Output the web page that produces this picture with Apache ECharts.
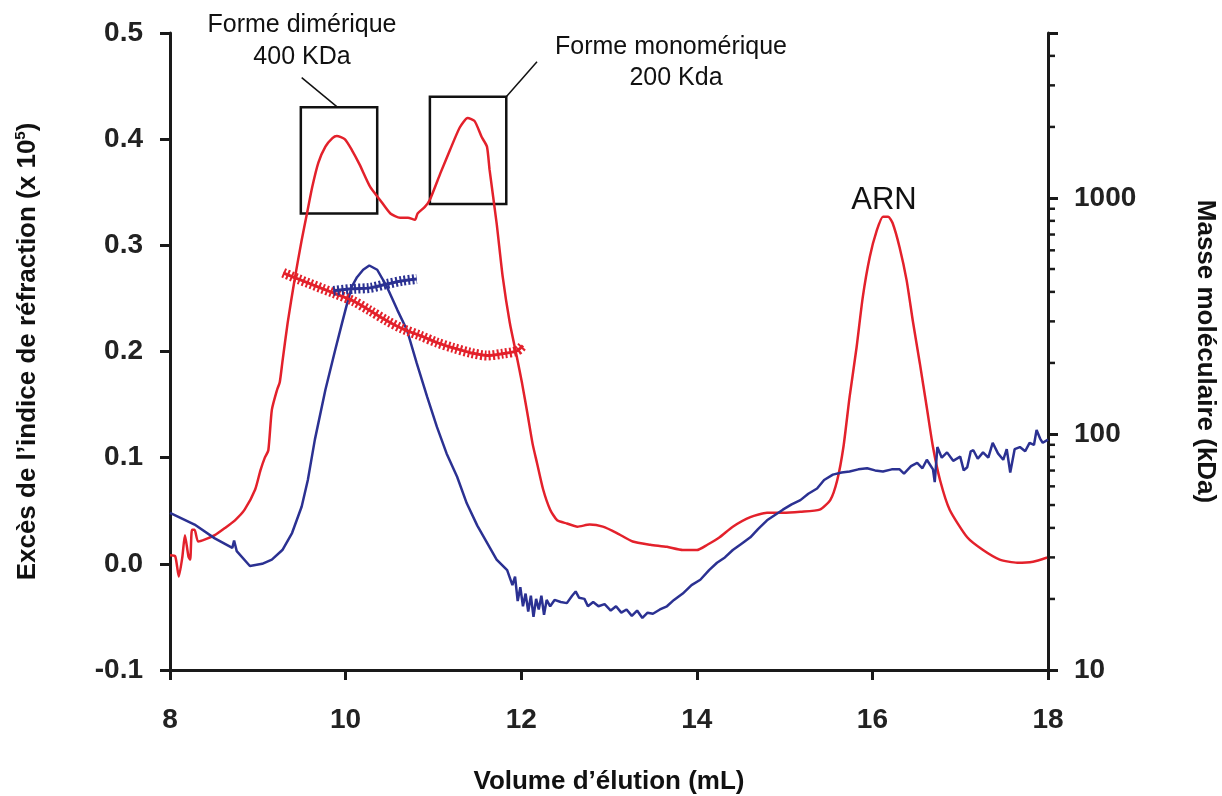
<!DOCTYPE html>
<html>
<head>
<meta charset="utf-8">
<script src="https://cdn.jsdelivr.net/npm/echarts@6/dist/echarts.min.js"></script>
<style>
	html, body { margin: 0; padding: 0; background: #fff; }
	#main { width: 1222px; height: 796px; }
</style>
</head>
<body>
<div id="main"></div>
<script>
// indice de réfraction (rouge), axe de gauche
const riData = [
	[8.00, 0.008], [8.06, 0.007], [8.10, -0.012], [8.14, 0.006], [8.17, 0.027], [8.21, 0.007],
	[8.23, 0.004], [8.25, 0.032], [8.28, 0.032], [8.32, 0.021], [8.40, 0.023], [8.51, 0.027],
	[8.63, 0.034], [8.74, 0.041], [8.85, 0.051], [8.97, 0.070], [9.03, 0.088], [9.08, 0.100],
	[9.12, 0.107], [9.16, 0.145], [9.22, 0.164], [9.25, 0.171], [9.28, 0.190], [9.34, 0.227],
	[9.42, 0.268], [9.50, 0.305], [9.56, 0.330], [9.62, 0.355], [9.69, 0.378], [9.77, 0.393],
	[9.85, 0.401], [9.90, 0.403], [9.99, 0.400], [10.07, 0.390], [10.16, 0.376], [10.28, 0.355],
	[10.39, 0.343], [10.51, 0.330], [10.62, 0.326], [10.71, 0.326], [10.79, 0.324], [10.82, 0.330],
	[10.90, 0.336], [10.96, 0.343], [11.08, 0.368], [11.19, 0.390], [11.30, 0.411], [11.39, 0.420],
	[11.47, 0.417], [11.55, 0.402], [11.61, 0.393], [11.64, 0.371], [11.72, 0.321], [11.79, 0.270],
	[11.87, 0.227], [11.95, 0.195], [12.01, 0.170], [12.07, 0.142], [12.13, 0.113], [12.18, 0.095],
	[12.25, 0.070], [12.33, 0.051], [12.41, 0.041], [12.52, 0.038], [12.64, 0.035], [12.78, 0.037],
	[12.93, 0.035], [13.09, 0.029], [13.27, 0.021], [13.47, 0.018], [13.66, 0.016], [13.84, 0.013],
	[14.00, 0.013], [14.12, 0.018], [14.26, 0.025], [14.41, 0.035], [14.61, 0.044], [14.80, 0.048],
	[14.98, 0.048], [15.18, 0.049], [15.40, 0.051], [15.52, 0.060], [15.60, 0.079], [15.67, 0.110],
	[15.74, 0.157], [15.82, 0.204], [15.89, 0.251], [15.97, 0.289], [16.05, 0.314], [16.12, 0.327],
	[16.18, 0.327], [16.23, 0.321], [16.31, 0.298], [16.39, 0.267], [16.46, 0.229], [16.54, 0.189],
	[16.62, 0.147], [16.69, 0.110], [16.77, 0.079], [16.88, 0.051], [17.08, 0.025], [17.26, 0.013],
	[17.45, 0.004], [17.65, 0.001], [17.83, 0.002], [17.99, 0.006]
];

// signal bleu, axe de gauche
const lsData = [
	[8.00, 0.048], [8.28, 0.037], [8.51, 0.024], [8.71, 0.015], [8.73, 0.022], [8.76, 0.012],
	[8.91, -0.002], [9.05, 0.000], [9.16, 0.004], [9.28, 0.013], [9.39, 0.029], [9.50, 0.054],
	[9.57, 0.079], [9.65, 0.117], [9.77, 0.164], [9.88, 0.201], [9.96, 0.227], [10.02, 0.246],
	[10.07, 0.261], [10.13, 0.270], [10.20, 0.277], [10.27, 0.281], [10.36, 0.277], [10.47, 0.261],
	[10.59, 0.239], [10.70, 0.220], [10.81, 0.189], [10.93, 0.157], [11.04, 0.129], [11.15, 0.104],
	[11.27, 0.082], [11.38, 0.057], [11.50, 0.036], [11.61, 0.020], [11.72, 0.004], [11.84, -0.006],
	[11.90, -0.020], [11.93, -0.012], [11.96, -0.035], [11.99, -0.022], [12.02, -0.040], [12.05, -0.028],
	[12.08, -0.045], [12.11, -0.030], [12.14, -0.050], [12.17, -0.033], [12.20, -0.043], [12.23, -0.030],
	[12.26, -0.048], [12.29, -0.034], [12.33, -0.040], [12.38, -0.034], [12.45, -0.036], [12.52, -0.037],
	[12.58, -0.030], [12.62, -0.026], [12.66, -0.032], [12.72, -0.033], [12.76, -0.040], [12.82, -0.036],
	[12.88, -0.040], [12.95, -0.038], [13.02, -0.044], [13.08, -0.040], [13.14, -0.046], [13.20, -0.043],
	[13.26, -0.049], [13.32, -0.044], [13.38, -0.051], [13.44, -0.046], [13.50, -0.047], [13.58, -0.043],
	[13.66, -0.040], [13.74, -0.034], [13.84, -0.028], [13.94, -0.020], [14.04, -0.015], [14.14, -0.006],
	[14.23, 0.001], [14.32, 0.006], [14.41, 0.013], [14.51, 0.019], [14.61, 0.025], [14.70, 0.033],
	[14.80, 0.041], [14.89, 0.046], [14.98, 0.051], [15.08, 0.056], [15.18, 0.060], [15.27, 0.066],
	[15.37, 0.071], [15.45, 0.079], [15.55, 0.084], [15.65, 0.086], [15.74, 0.087], [15.84, 0.089],
	[15.94, 0.090], [16.03, 0.088], [16.12, 0.087], [16.22, 0.089], [16.31, 0.089], [16.36, 0.085],
	[16.44, 0.092], [16.51, 0.095], [16.57, 0.090], [16.62, 0.098], [16.69, 0.089], [16.71, 0.077],
	[16.74, 0.110], [16.79, 0.100], [16.85, 0.105], [16.92, 0.097], [17.00, 0.101], [17.04, 0.088],
	[17.08, 0.091], [17.12, 0.106], [17.15, 0.107], [17.20, 0.099], [17.26, 0.105], [17.32, 0.100],
	[17.37, 0.114], [17.43, 0.104], [17.49, 0.098], [17.53, 0.108], [17.57, 0.086], [17.62, 0.108],
	[17.68, 0.110], [17.74, 0.106], [17.79, 0.114], [17.84, 0.112], [17.87, 0.126], [17.91, 0.118],
	[17.94, 0.114], [18.00, 0.117]
];

// masses moléculaires (kDa), axe de droite (log)
const massRed = [
	[9.29, 482], [9.45, 455], [9.86, 396], [10.08, 367], [10.28, 333], [10.47, 302], [10.65, 279],
	[10.85, 261], [11.04, 244], [11.22, 232], [11.42, 221], [11.61, 215], [11.79, 219], [11.95, 225], [12.02, 237]
];
const massBlue = [
	[9.86, 404], [10.08, 412], [10.28, 416], [10.47, 432], [10.65, 446], [10.81, 454]
];

const xTicks = [8, 10, 12, 14, 16, 18];
const leftTicks = [-0.1, 0.0, 0.1, 0.2, 0.3, 0.4, 0.5];
const rightMajor = [10, 100, 1000];
const rightMinor = [20, 30, 40, 50, 60, 70, 80, 90, 200, 300, 400, 500, 600, 700, 800, 900, 2000, 3000, 4000];

const RED = '#e3212b';
const BLUE = '#2b3192';
const FONT = '"Liberation Sans", Arial, sans-serif';

let myChart = echarts.init(document.getElementById('main'));

let axisCommon = {
	axisLine: { show: true, onZero: false, lineStyle: { color: '#1a1a1a', width: 3 } },
	axisTick: { show: true, inside: false, length: 10, lineStyle: { color: '#1a1a1a', width: 3 } },
	splitLine: { show: false },
	nameTextStyle: { fontFamily: FONT, fontWeight: 'bold', fontSize: 26, color: '#111' },
	axisLabel: { fontFamily: FONT, fontWeight: 'bold', fontSize: 28, color: '#222' }
};

let option = {
	animation: false,
	grid: { left: 170, right: 174, top: 33, bottom: 126, containLabel: false, outerBoundsMode: 'none' },
	xAxis: {
		type: 'value',
		min: xTicks[0],
		max: xTicks[xTicks.length - 1],
		interval: 2,
		name: 'Volume d’élution (mL)',
		nameLocation: 'middle',
		nameGap: 99,
		axisLine: axisCommon.axisLine,
		axisTick: axisCommon.axisTick,
		splitLine: axisCommon.splitLine,
		nameTextStyle: axisCommon.nameTextStyle,
		axisLabel: Object.assign({}, axisCommon.axisLabel, { margin: 36 })
	},
	yAxis: [
		{
			type: 'value',
			position: 'left',
			min: leftTicks[0],
			max: leftTicks[leftTicks.length - 1],
			interval: 0.1,
			name: 'Excès de l’indice de réfraction (x 10{sup|5})',
			nameLocation: 'middle',
			nameGap: 128,
			nameRotate: 90,
			axisLine: axisCommon.axisLine,
			axisTick: axisCommon.axisTick,
			splitLine: axisCommon.splitLine,
			nameTextStyle: Object.assign({}, axisCommon.nameTextStyle, {
				rich: { sup: { fontFamily: FONT, fontWeight: 'bold', fontSize: 15, color: '#111', verticalAlign: 'top', padding: [0, 0, 14, 0] } }
			}),
			axisLabel: Object.assign({}, axisCommon.axisLabel, {
				margin: 27,
				formatter: (v) => v.toFixed(1)
			})
		},
		{
			type: 'log',
			logBase: 10,
			position: 'right',
			min: 10,
			max: 5000,
			name: 'Masse moléculaire (kDa)',
			nameLocation: 'middle',
			nameGap: 144,
			nameRotate: -90,
			axisLine: axisCommon.axisLine,
			axisTick: axisCommon.axisTick,
			splitLine: axisCommon.splitLine,
			nameTextStyle: axisCommon.nameTextStyle,
			axisLabel: Object.assign({}, axisCommon.axisLabel, {
				margin: 26,
				formatter: (v) => rightMajor.indexOf(Math.round(v)) >= 0 ? String(Math.round(v)) : ''
			})
		}
	],
	series: [
		{
			name: 'RI',
			type: 'line',
			data: riData,
			yAxisIndex: 0,
			showSymbol: false,
			smooth: 0.2,
			lineStyle: { color: RED, width: 2.5 },
			markArea: {
				silent: true,
				itemStyle: { color: 'rgba(0,0,0,0)', borderColor: '#111', borderWidth: 2.5 },
				data: [
					[{ coord: [9.49, 0.430] }, { coord: [10.36, 0.330] }],
					[{ coord: [10.96, 0.440] }, { coord: [11.83, 0.339] }]
				]
			},
			markLine: {
				silent: true,
				symbol: 'none',
				label: { show: false },
				lineStyle: { color: '#111', width: 1.5, type: 'solid' },
				data: [
					[{ coord: [9.91, 0.430] }, { coord: [9.50, 0.458] }],
					[{ coord: [11.83, 0.440] }, { coord: [12.18, 0.473] }]
				]
			}
		},
		{
			name: 'LS',
			type: 'line',
			data: lsData,
			yAxisIndex: 0,
			showSymbol: false,
			lineStyle: { color: BLUE, width: 2.5 }
		},
		// lignes de masse : trait fin + barres perpendiculaires (tirets épais)
		{
			type: 'line', data: massRed, yAxisIndex: 1, showSymbol: false, smooth: 0.3,
			lineStyle: { color: RED, width: 3 }
		},
		{
			type: 'line', data: massRed, yAxisIndex: 1, showSymbol: false, smooth: 0.3,
			lineStyle: { color: RED, width: 10, type: [2, 2.2] }
		},
		{
			type: 'line', data: massBlue, yAxisIndex: 1, showSymbol: false, smooth: 0.3,
			lineStyle: { color: BLUE, width: 3 }
		},
		{
			type: 'line', data: massBlue, yAxisIndex: 1, showSymbol: false, smooth: 0.3,
			lineStyle: { color: BLUE, width: 10, type: [2, 2.2] }
		}
	]
};
myChart.setOption(option);

// petits traits logarithmiques de l'axe de droite + textes
let graphics = [];
let xRight = myChart.convertToPixel({ xAxisIndex: 0 }, 18);
for (let v of rightMinor) {
	let y = myChart.convertToPixel({ yAxisIndex: 1 }, v);
	graphics.push({
		type: 'line',
		shape: { x1: xRight, y1: y, x2: xRight + 7, y2: y },
		style: { stroke: '#1a1a1a', lineWidth: 2.5 }
	});
}

let textStyle = { fontFamily: FONT, fontSize: 25, fill: '#111', align: 'center', verticalAlign: 'middle' };
graphics.push(
	{ type: 'text', x: 302, y: 25, style: Object.assign({ text: 'Forme dimérique' }, textStyle) },
	{ type: 'text', x: 302, y: 57, style: Object.assign({ text: '400 KDa' }, textStyle) },
	{ type: 'text', x: 671, y: 47, style: Object.assign({ text: 'Forme monomérique' }, textStyle) },
	{ type: 'text', x: 676, y: 78, style: Object.assign({ text: '200 Kda' }, textStyle) },
	{ type: 'text', x: 884, y: 200, style: Object.assign({}, textStyle, { text: 'ARN', fontSize: 31 }) }
);
myChart.setOption({ graphic: graphics });
</script>
</body>
</html>
